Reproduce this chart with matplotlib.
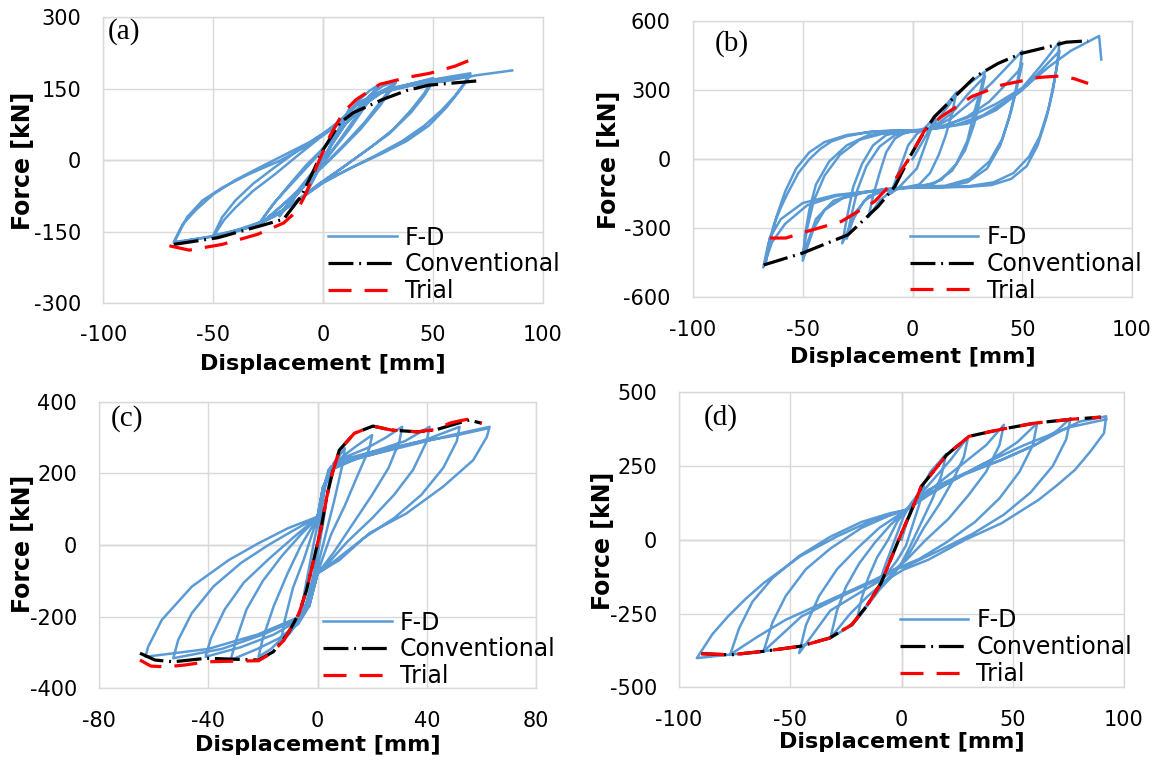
import numpy as np
import matplotlib
matplotlib.use("Agg")
import matplotlib.pyplot as plt

plt.rcParams["axes.unicode_minus"] = False

# cyclic force-displacement traces: (displacement [mm], force [kN])
fd_a = [
    (0, 0), (4, 35), (8, 70), (12, 105),
    (8, 72), (3, 25), (-2, -18), (-6, -52), (-10, -85),
    (-6, -55), (-1, -10), (4, 35), (8, 75), (12, 108),
    (7, 62), (2, 15), (-4, -35), (-10, -88),
    (-5, -45), (0, 0), (6, 55), (11, 95), (16, 125), (21, 145), (25, 157),
    (20, 125), (14, 85), (8, 45), (0, -5), (-8, -50), (-14, -85), (-20, -115),
    (-14, -80), (-6, -35), (2, 20), (10, 75), (18, 120), (25, 152),
    (19, 112), (12, 65), (4, 18), (-4, -30), (-12, -72), (-20, -118),
    (-13, -72), (-4, -20), (5, 40), (13, 95), (21, 135), (27, 155), (33, 165),
    (27, 128), (19, 80), (10, 35), (0, -12), (-10, -58), (-20, -100), (-30, -140),
    (-24, -100), (-16, -55), (-8, -12), (0, 25), (9, 70), (18, 112), (26, 142), (33, 162),
    (26, 115), (17, 65), (7, 18), (-4, -30), (-16, -85), (-25, -120), (-30, -138),
    (-22, -88), (-12, -38), (-2, 12), (8, 65), (18, 115), (28, 145), (40, 160), (50, 172),
    (46, 140), (40, 105), (32, 65), (22, 28), (10, -12), (-2, -50), (-14, -92), (-28, -132),
    (-40, -150), (-50, -160),
    (-45, -125), (-40, -100), (-32, -65), (-22, -30), (-12, 8), (-2, 45), (7, 75), (15, 115),
    (25, 140), (38, 155), (50, 165),
    (46, 135), (40, 100), (30, 55), (18, 15), (6, -25), (-6, -65), (-18, -105), (-32, -140),
    (-50, -158),
    (-46, -120), (-40, -85), (-32, -50), (-22, -15), (-10, 25), (0, 55), (8, 85), (16, 120),
    (28, 148), (45, 165), (67, 182),
    (64, 160), (60, 135), (54, 105), (46, 72), (36, 40), (24, 10), (12, -18), (0, -48),
    (-10, -80), (-22, -118), (-38, -148), (-52, -162), (-68, -172),
    (-64, -135), (-58, -105), (-50, -72), (-40, -42), (-30, -18), (-18, 10), (-6, 38), (4, 68),
    (10, 88), (16, 120), (26, 142), (40, 158), (55, 168), (67, 178),
    (62, 145), (56, 110), (48, 72), (38, 40), (26, 12), (12, -18), (0, -45), (-10, -80),
    (-25, -125), (-45, -155), (-68, -174),
    (-62, -120), (-55, -85), (-46, -58), (-34, -30), (-20, -2), (-8, 28), (2, 60), (9, 85),
    (15, 115), (25, 140), (40, 156), (55, 165), (70, 178), (86, 188),
]
conv_a = [(-68, -177), (-48, -163), (-27, -136), (-18, -124), (-10, -76), (-4.5, -23),
          (0, 22), (7.6, 78), (13.6, 99), (27, 127), (38, 146), (48, 157), (70, 166)]
trial_a = [(-70, -180), (-61, -189), (-46, -177), (-30, -156), (-18, -132), (-12, -107),
           (-7.6, -68), (-3, -13), (3, 50), (9, 99), (15, 127), (25.8, 159), (39, 174),
           (48.5, 182), (60, 197), (70.7, 217)]

fd_b = [
    (0, 0), (3, 50), (6, 100), (10, 175),
    (8, 120), (5, 40), (2, -40), (-3, -90), (-6, -120), (-10, -150),
    (-8, -100), (-5, -20), (-2, 60), (2, 110), (6, 140), (10, 180), (14, 220), (20, 290),
    (18, 200), (15, 100), (12, 20), (8, -60), (3, -110), (-5, -125), (-10, -140), (-15, -180),
    (-20, -250),
    (-18, -160), (-15, -60), (-12, 30), (-8, 90), (-3, 118), (3, 122), (8, 135), (13, 190),
    (17, 240), (20, 285), (26, 330), (33, 380),
    (31, 300), (28, 200), (25, 80), (20, -20), (13, -90), (5, -118), (-5, -125), (-15, -140),
    (-22, -180), (-27, -260), (-32, -365),
    (-30, -260), (-27, -120), (-23, -20), (-18, 60), (-12, 105), (-5, 120), (3, 122), (10, 145),
    (18, 200), (25, 280), (30, 330), (33, 360),
    (31, 270), (28, 150), (24, 40), (18, -50), (10, -105), (0, -120), (-10, -130), (-20, -160),
    (-26, -230), (-30, -345),
    (-28, -250), (-25, -130), (-21, -30), (-15, 55), (-8, 105), (0, 120), (8, 130), (18, 180),
    (28, 260), (36, 330), (43, 400), (50, 470),
    (49, 400), (47, 300), (44, 180), (40, 60), (34, -40), (25, -100), (14, -120), (2, -122),
    (-10, -130), (-22, -145), (-32, -170), (-40, -220), (-45, -300), (-50, -440),
    (-49, -330), (-47, -220), (-44, -110), (-38, -10), (-30, 60), (-20, 105), (-8, 120),
    (5, 123), (15, 145), (25, 185), (35, 250), (43, 330), (48, 380), (50, 415),
    (48, 330), (45, 210), (41, 90), (35, -10), (26, -85), (15, -115), (2, -120), (-12, -128),
    (-25, -148), (-36, -180), (-44, -260), (-50, -420),
    (-48, -300), (-45, -180), (-40, -70), (-33, 20), (-24, 85), (-12, 115), (2, 122),
    (12, 140), (25, 180), (38, 240), (50, 310), (58, 400), (63, 460), (67, 510),
    (66, 420), (64, 300), (61, 180), (57, 60), (52, -30), (45, -85), (36, -112), (25, -120),
    (10, -122), (-5, -124), (-20, -140), (-35, -160), (-48, -200), (-58, -280), (-64, -360),
    (-68, -470),
    (-66, -380), (-63, -280), (-60, -210), (-57, -150), (-52, -60), (-47, 0), (-42, 45),
    (-37, 77), (-30, 100), (-20, 118), (-10, 125), (2, 126), (12, 135), (25, 155), (38, 213),
    (50, 300), (58, 380), (64, 440), (67, 470),
    (65, 360), (62, 220), (58, 100), (53, 10), (46, -60), (37, -100), (25, -118), (10, -122),
    (-5, -125), (-20, -140), (-35, -155), (-50, -190), (-60, -260), (-65, -340), (-67, -455),
    (-65, -360), (-62, -250), (-58, -140), (-53, -40), (-47, 30), (-40, 75), (-30, 105),
    (-18, 120), (-5, 123), (8, 130), (20, 150), (32, 190), (42, 250), (52, 320), (62, 400),
    (72, 470), (80, 510), (85, 535), (86, 433),
]
conv_b = [(-67.8, -459), (-50, -407), (-29.4, -328), (-15.7, -205), (-8, -118), (-2, -3),
          (4, 98), (10, 185), (19.3, 272), (28.5, 358), (39, 416), (49.8, 460), (62, 488),
          (70, 508), (80, 514)]
trial_b = [(-65, -342), (-57.7, -342), (-49, -316), (-32.4, -270), (-17.2, -183), (-8, -90),
           (-2, -3), (5.6, 127), (13.2, 185), (27, 272), (40.6, 322), (57.4, 355),
           (66.8, 361), (73.5, 350), (80, 329)]

fd_c = [
    (0, 0), (1, 60), (2, 130), (3, 180), (5, 220),
    (4, 160), (2, 60), (0, -30), (-2, -100), (-4, -160), (-6, -200),
    (-5, -140), (-3, -60), (-1, 20), (1, 90), (3, 170), (6, 230), (10, 270),
    (9, 220), (6, 120), (3, 30), (0, -60), (-3, -140), (-6, -200), (-10, -245), (-13.5, -274),
    (-12, -210), (-9, -120), (-5, -40), (-2, 30), (0, 75), (2, 150), (4, 210), (8, 240),
    (14, 275), (20, 307),
    (19, 270), (15, 200), (10, 110), (5, 30), (0, -78), (-3, -160), (-7, -215), (-13, -260),
    (-17, -290), (-21.6, -312),
    (-20, -260), (-16, -170), (-11, -80), (-6, 0), (-2, 50), (0, 78), (2, 160), (5, 215),
    (10, 245), (18, 270), (25, 300), (31, 330),
    (30, 290), (26, 215), (20, 140), (13, 60), (6, -20), (0, -80), (-3, -170), (-7, -220),
    (-14, -260), (-22, -290), (-31.8, -321),
    (-30, -270), (-26, -180), (-20, -100), (-13, -30), (-6, 30), (0, 76), (2, 160), (5, 210),
    (12, 240), (22, 265), (32, 290), (41, 330),
    (40, 290), (35, 210), (28, 140), (20, 75), (11, 10), (4, -50), (0, -80), (-3, -165),
    (-7, -210), (-16, -250), (-28, -285), (-41, -312),
    (-39, -260), (-34, -180), (-27, -105), (-18, -40), (-9, 20), (0, 78), (2, 160), (5, 210),
    (14, 240), (28, 270), (40, 295), (52, 330),
    (51, 290), (46, 215), (38, 140), (28, 75), (17, 20), (7, -40), (0, -80), (-3, -170),
    (-8, -210), (-20, -250), (-35, -290), (-52.8, -316),
    (-51, -265), (-46, -190), (-38, -115), (-28, -50), (-18, 0), (-9, 40), (0, 78), (2, 160),
    (5, 215), (16, 245), (32, 275), (48, 305), (63, 330),
    (62, 302), (57, 237), (46, 163), (32.5, 88), (19, 33), (8, -42), (0, -79), (-3, -165),
    (-8, -205), (-22, -250), (-40, -290), (-63, -312),
    (-62, -284), (-57, -209), (-46, -116), (-32.5, -42), (-21.6, 5), (-10.8, 47), (0, 79),
    (2, 150), (5, 215), (10, 240), (20, 260), (35, 285), (50, 305), (62, 325),
]
conv_c = [(-65, -302), (-59.5, -321), (-52.8, -326), (-40.6, -316), (-29.8, -319),
          (-21.6, -321), (-16.2, -298), (-10.8, -247), (-6.8, -191), (-4, -126), (-1.4, -42),
          (1.4, 51), (3.4, 135), (5.4, 200), (8, 265), (13.5, 312), (20.3, 332), (27, 321),
          (36.5, 316), (43, 321), (51.4, 340), (55.5, 349), (60, 340)]
trial_c = [(-65, -321), (-61, -338), (-55.5, -340), (-48.7, -335), (-40.6, -326),
           (-29.8, -324), (-21.6, -323), (-16.9, -302), (-12.2, -265), (-6.8, -191),
           (-4, -126), (-1.4, -42), (1.4, 51), (3.4, 135), (5.4, 200), (8, 265), (13.5, 312),
           (20.3, 332), (27, 321), (36.5, 316), (43, 322), (48.7, 341), (54.8, 351),
           (60.2, 340)]

fd_d = [
    (0, 0), (2, 50), (4, 100), (7, 140), (10, 180),
    (8, 120), (5, 50), (2, -20), (-2, -70), (-6, -110), (-10, -150),
    (-8, -100), (-5, -40), (-2, 20), (1, 80), (4, 120), (8, 160), (13, 230), (20, 290),
    (18, 220), (14, 140), (9, 60), (4, -20), (0, -80), (-5, -130), (-10, -170), (-15, -220),
    (-20, -270),
    (-18, -200), (-15, -130), (-11, -60), (-6, 0), (-2, 60), (2, 100), (8, 150), (15, 210),
    (22, 270), (30, 350),
    (28, 280), (23, 200), (17, 120), (10, 40), (4, -40), (-2, -100), (-8, -145), (-15, -190),
    (-23, -250), (-32, -333),
    (-29, -240), (-25, -160), (-19, -80), (-12, -10), (-5, 50), (2, 100), (10, 150), (18, 200),
    (28, 260), (38, 320), (46, 389),
    (44, 320), (38, 230), (30, 150), (21, 70), (11, 0), (2, -70), (-3, -100), (-10, -140),
    (-20, -185), (-32, -240), (-46, -384),
    (-43, -290), (-37, -190), (-29, -100), (-20, -30), (-10, 40), (2, 100), (12, 150),
    (25, 210), (40, 270), (52, 330), (61, 395),
    (59, 320), (53, 230), (44, 140), (33, 60), (20, -10), (8, -65), (-3, -100), (-12, -140),
    (-28, -195), (-45, -260), (-62, -378),
    (-58, -280), (-52, -190), (-43, -100), (-32, -30), (-18, 40), (-6, 80), (2, 100),
    (12, 155), (28, 220), (45, 270), (60, 320), (70, 370), (76, 412),
    (74, 340), (68, 250), (58, 160), (46, 85), (32, 20), (16, -40), (2, -90), (-3, -100),
    (-12, -135), (-32, -203), (-52, -271), (-65, -330), (-77, -389),
    (-73, -300), (-67, -210), (-58, -130), (-46, -55), (-32, 10), (-18, 60), (-5, 90),
    (2, 100), (12, 169), (28.7, 226), (45, 271), (61.6, 327), (72, 370), (80, 400), (92, 418),
    (91, 361), (85, 300), (78, 237), (70, 185), (61.6, 135), (45, 56), (28.7, 0), (12, -68),
    (0.7, -102), (-9, -147), (-16, -226), (-22, -288), (-32, -333), (-46, -361), (-62, -378),
    (-77, -389), (-92, -401),
    (-85, -320), (-78, -260), (-70, -200), (-62, -147), (-45.5, -56), (-29, 11), (-12.5, 68),
    (2, 102), (8, 135), (18, 180), (35, 250), (55, 320), (75, 380), (92, 408),
]
conv_d = [(-90, -386), (-76.8, -390), (-62, -378), (-45.5, -361), (-32.3, -333),
          (-22.4, -288), (-15.8, -226), (-9.2, -147), (-4.3, -56), (0, 23), (4, 90),
          (8.9, 181), (13.8, 226), (20.4, 288), (30.3, 350), (43.5, 372), (60, 395),
          (76.4, 408), (89.6, 415)]
trial_d = list(conv_d)

xticks_a = [-100, -50, 0, 50, 100]
yticks_a = [-300, -150, 0, 150, 300]
xticks_b = [-100, -50, 0, 50, 100]
yticks_b = [-600, -300, 0, 300, 600]
xticks_c = [-80, -40, 0, 40, 80]
yticks_c = [-400, -200, 0, 200, 400]
xticks_d = [-100, -50, 0, 50, 100]
yticks_d = [-500, -250, 0, 250, 500]

BLUE = "#5B9BD5"
GRID = "#D9D9D9"
AXIS0 = "#BFBFBF"

panels = [
    dict(tag="(a)", rect=[0.0896, 0.6018, 0.3805, 0.3758], fd=fd_a, conv=conv_a, trial=trial_a,
         xt=xticks_a, yt=yticks_a, tag_pos=(0.010, 0.995), leg=(0.511, 0.271),
         ylab=(-0.156, 0.497), xlab=(0.5, -0.178)),
    dict(tag="(b)", rect=[0.6, 0.6091, 0.3801, 0.3633], fd=fd_b, conv=conv_b, trial=trial_b,
         xt=xticks_b, yt=yticks_b, tag_pos=(0.05, 0.967), leg=(0.494, 0.262),
         ylab=(-0.165, 0.497), xlab=(0.5, -0.179)),
    dict(tag="(c)", rect=[0.0857, 0.0955, 0.3784, 0.3766], fd=fd_c, conv=conv_c, trial=trial_c,
         xt=xticks_c, yt=yticks_c, tag_pos=(0.027, 0.988), leg=(0.513, 0.271),
         ylab=(-0.146, 0.503), xlab=(0.5, -0.163)),
    dict(tag="(d)", rect=[0.5879, 0.0968, 0.3853, 0.388], fd=fd_d, conv=conv_d, trial=trial_d,
         xt=xticks_d, yt=yticks_d, tag_pos=(0.056, 0.961), leg=(0.496, 0.268),
         ylab=(-0.144, 0.497), xlab=(0.5, -0.151)),
]

fig = plt.figure(figsize=(11.55, 7.61), dpi=100)

for p in panels:
    ax = fig.add_axes(p["rect"])
    d, f = np.array(p["fd"]).T
    ax.plot(d, f, color=BLUE, lw=1.8, solid_joinstyle="round", label="F-D", zorder=3)
    d, f = np.array(p["conv"]).T
    ax.plot(d, f, color="black", lw=2.3, ls=(0, (7.8, 1.8, 0.6, 1.8)),
            label="Conventional", zorder=4)
    d, f = np.array(p["trial"]).T
    ax.plot(d, f, color="red", lw=2.3, ls=(0, (7.2, 4.1)), label="Trial", zorder=5)

    xt, yt = p["xt"], p["yt"]
    ax.set_xlim(xt[0], xt[-1])
    ax.set_ylim(yt[0], yt[-1])
    ax.set_xticks(xt)
    ax.set_yticks(yt)
    ax.grid(True, color=GRID, lw=1.0, zorder=0)
    ax.axhline(0, color=AXIS0, lw=1.0, zorder=1)
    ax.axvline(0, color=AXIS0, lw=1.0, zorder=1)
    for s in ax.spines.values():
        s.set_color(GRID)
        s.set_linewidth(1.0)
    ax.tick_params(length=0, labelsize=15, colors="black")
    ax.tick_params(axis="y", pad=16)
    ax.tick_params(axis="x", pad=16)

    ax.set_xlabel("Displacement [mm]", fontsize=16, fontweight="bold")
    ax.set_ylabel("Force [kN]", fontsize=17, fontweight="bold")
    ax.xaxis.set_label_coords(*p["xlab"])
    ax.yaxis.set_label_coords(*p["ylab"])

    ax.text(*p["tag_pos"], p["tag"], transform=ax.transAxes, ha="left", va="top",
            fontsize=21, family="Liberation Serif")

    ax.legend(loc="upper left", bbox_to_anchor=p["leg"], frameon=False, fontsize=17,
              handlelength=2.9, handletextpad=0.35, labelspacing=0.12, borderpad=0,
              borderaxespad=0)

fig.savefig("out.png", dpi=100)
